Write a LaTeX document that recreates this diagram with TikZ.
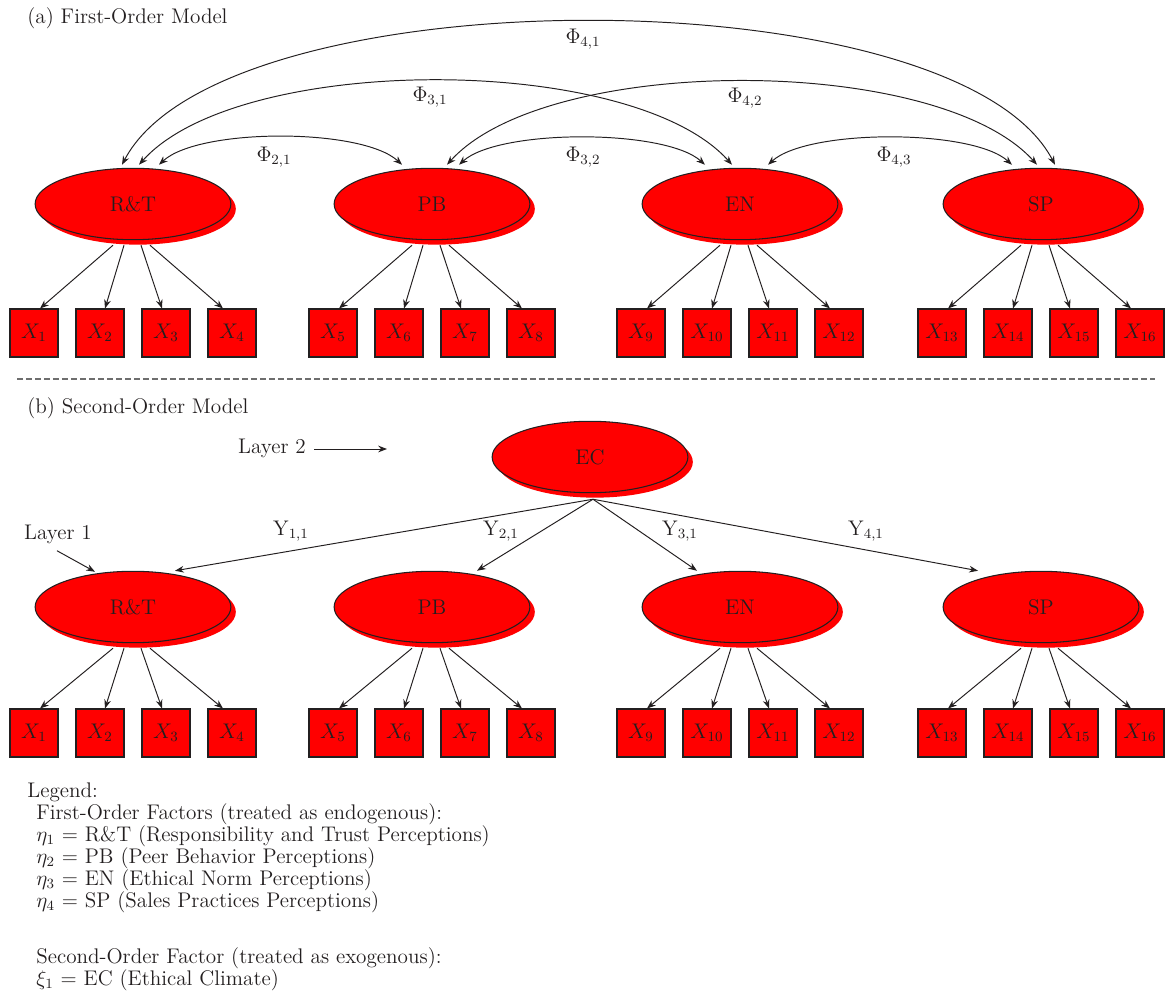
\documentclass[tikz,border=0pt]{standalone}
\usepackage{tikz}
\usetikzlibrary{arrows.meta, shapes.geometric, shadows, calc}
\definecolor{factorred}{RGB}{255, 0, 0}
\definecolor{inkgray}{RGB}{35, 31, 32}
\definecolor{rulegray}{RGB}{110, 110, 110}

\tikzset{
  latent/.style={ellipse, draw=inkgray, fill=factorred, line width=0.6pt,
    minimum width=111pt, minimum height=40.5pt, inner sep=0pt,
    drop shadow={shadow xshift=2.8pt, shadow yshift=-2.8pt, fill=factorred, opacity=1}},
  manifest/.style={rectangle, draw=inkgray, fill=factorred, line width=0.6pt,
    minimum size=27.2pt, inner sep=0pt},
  load/.style={draw=inkgray, line width=0.55pt, -{Stealth[length=5pt, width=3.8pt]}},
  cov/.style={draw=inkgray, line width=0.55pt,
    {Stealth[length=5pt, width=3.8pt]}-{Stealth[length=5pt, width=3.8pt]}},
  lbl/.style={inner sep=0pt},
  sepline/.style={draw=rulegray, line width=0.6pt, dash pattern=on 3.4pt off 1.7pt}
}

\begin{document}
\begin{tikzpicture}[x=0.567pt, y=-0.567pt,
    every node/.style={font=\fontsize{12}{12.5}\selectfont, text=inkgray}]
  \useasboundingbox (0,0) rectangle (1165,994);

  % (a) first-order model
  \node[lbl, anchor=west] (heada) at (27,18) {(a) First-Order Model};

  \foreach \f/\lab/\cx [count=\i] in {rt/R\&T/133, pb/PB/432, en/EN/740, sp/SP/1041}{
    \node[latent] (top-\f) at (\cx,204) {\lab};
    \foreach \k/\dx/\sx/\ex in {1/-99/-20/6, 2/-33/-9/5, 3/33/8/-4, 4/99/17/-9}{
      \pgfmathtruncatemacro{\n}{4*(\i-1)+\k}
      \node[manifest] (xa\n) at (\cx+\dx,333) {$X_{\n}$};
      \draw[load] ($(top-\f.south)+(\sx,5)$) -- ($(xa\n.north)+(\ex,0)$);
    }
  }

  % covariances between the factors
  \foreach \s/\sdx/\e/\edx/\ax/\ay in {rt/26/pb/-30/40/37, pb/27/en/-35/40/36,
      en/28/sp/-29/40/36, rt/6/en/-8/100/112, pb/15/sp/-4/100/111, rt/-11/sp/14/100/191}{
    \draw[cov] ($(top-\s.north)+(\sdx,-3)$) .. controls +(\ax,-\ay) and +(-\ax,-\ay)
      .. ($(top-\e.north)+(\edx,-3)$);
  }
  \node (phi21) at (274,157) {$\Phi_{2,1}$};
  \node (phi32) at (583,157) {$\Phi_{3,2}$};
  \node (phi43) at (894,157) {$\Phi_{4,3}$};
  \node (phi31) at (430,97) {$\Phi_{3,1}$};
  \node (phi42) at (745,98) {$\Phi_{4,2}$};
  \node (phi41) at (583,39) {$\Phi_{4,1}$};

  % separator
  \coordinate (sepL) at (17,379);
  \coordinate (sepR) at (1155,379);
  \draw[sepline] (sepL) -- (sepR);

  % (b) second-order model
  \node[lbl, anchor=west] (headb) at (27,408) {(b) Second-Order Model};

  \node[latent] (ec) at (590,457) {EC};
  \node[lbl] (lay2) at (272,448) {Layer 2};
  \coordinate (lay2tip) at (387,449);
  \draw[load] ($(lay2.east)+(8,1)$) -- (lay2tip);

  \foreach \f/\lab/\cx [count=\i] in {rt/R\&T/133, pb/PB/432, en/EN/740, sp/SP/1041}{
    \node[latent] (bot-\f) at (\cx,607) {\lab};
    \foreach \k/\dx/\sx/\ex in {1/-99/-20/6, 2/-33/-9/5, 3/33/8/-4, 4/99/17/-9}{
      \pgfmathtruncatemacro{\n}{4*(\i-1)+\k}
      \node[manifest] (xb\n) at (\cx+\dx,733) {$X_{\n}$};
      \draw[load] ($(bot-\f.south)+(\sx,5)$) -- ($(xb\n.north)+(\ex,0)$);
    }
  }

  \foreach \f/\edx in {rt/42, pb/45, en/-43, sp/-63}{
    \draw[load] ($(ec.south)+(3,6)$) -- ($(bot-\f.north)+(\edx,0)$);
  }
  \node (gam11) at (291,531) {$\mathrm{Y}_{1,1}$};
  \node (gam21) at (501,531) {$\mathrm{Y}_{2,1}$};
  \node (gam31) at (680,531) {$\mathrm{Y}_{3,1}$};
  \node (gam41) at (866,531) {$\mathrm{Y}_{4,1}$};

  \node[lbl] (lay1) at (58,534) {Layer 1};
  \draw[load] ($(lay1.south)+(-1,7)$) -- ($(bot-rt.north)+(-38,1)$);

  % legend
  \foreach \x/\y/\t [count=\j] in {
      27/797/Legend:,
      36/819/First-Order Factors (treated as endogenous):,
      36/841/{$\eta_1$ = R\&T (Responsibility and Trust Perceptions)},
      36/863/{$\eta_2$ = PB (Peer Behavior Perceptions)},
      36/885/{$\eta_3$ = EN (Ethical Norm Perceptions)},
      36/907/{$\eta_4$ = SP (Sales Practices Perceptions)},
      36/963/Second-Order Factor (treated as exogenous):,
      36/985/{$\xi_1$ = EC (Ethical Climate)}}{
    \node[lbl, anchor=base west] (leg\j) at (\x,\y) {\t};
  }
\end{tikzpicture}
\end{document}
